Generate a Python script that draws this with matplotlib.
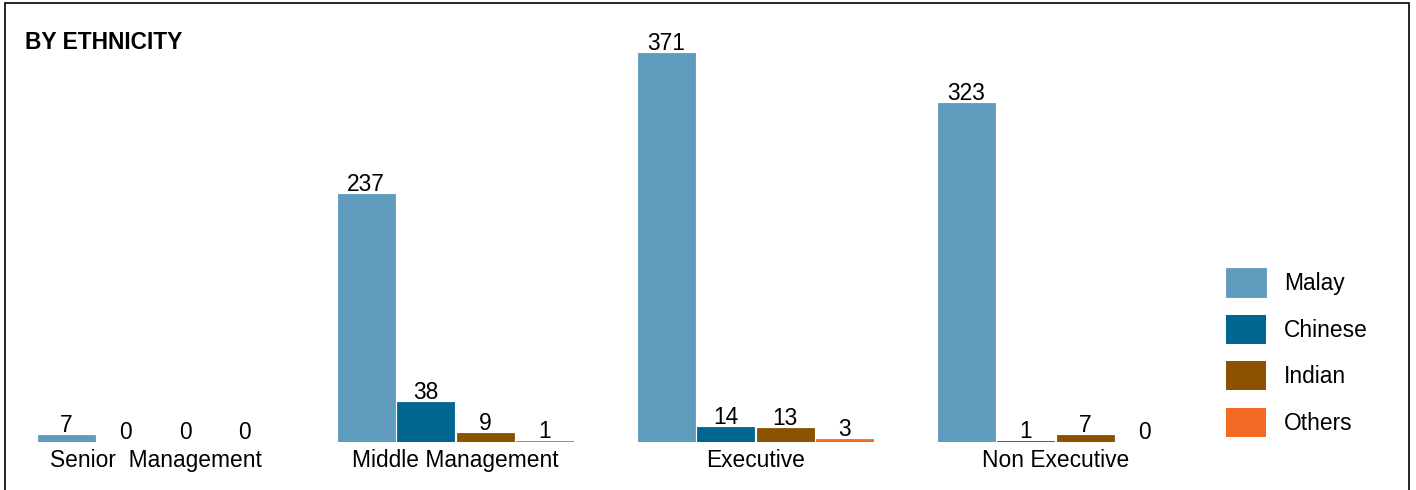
import matplotlib
matplotlib.use("Agg")
import matplotlib.pyplot as plt
from matplotlib.patches import Rectangle
import numpy as np

plt.rcParams['font.family'] = ['Liberation Sans', 'DejaVu Sans']

categories = ["Senior  Management", "Middle Management", "Executive", "Non Executive"]
series_names = ["Malay", "Chinese", "Indian", "Others"]
malay = [7, 237, 371, 323]
chinese = [0, 38, 14, 1]
indian = [0, 9, 13, 7]
others = [0, 1, 3, 0]
colors = ["#5F9BBD", "#00668F", "#8B5300", "#F36A25"]

W, H = 1416, 490
fig = plt.figure(figsize=(W / 100, H / 100), dpi=100)

FS = 16.4

# axes geometry in pixels
ax_left_px, ax_right_px = 0, 1200
ax_bottom_px, ax_top_px = 442, 10
ax = fig.add_axes([ax_left_px / W, (H - ax_bottom_px) / H,
                   (ax_right_px - ax_left_px) / W, (ax_bottom_px - ax_top_px) / H])

px_per_group = 300.0
first_center_px = 155.5
ax.set_xlim((ax_left_px - first_center_px) / px_per_group,
            (ax_right_px - first_center_px) / px_per_group)
px_per_unit = 1.0485
ax.set_ylim(0, (ax_bottom_px - ax_top_px) / px_per_unit)

x = np.arange(len(categories))
bar_w = 57 / px_per_group
step = 59.5 / px_per_group
all_series = [malay, chinese, indian, others]
for i, (vals, col, name) in enumerate(zip(all_series, colors, series_names)):
    offs = (i - 1.5) * step
    lws = [0.6 if v > 0 else 0 for v in vals]
    bars = ax.bar(x + offs, vals, width=bar_w, color=col, label=name,
                  edgecolor=col, linewidth=lws)
    for b, v in zip(bars, vals):
        ax.annotate(str(v), (b.get_x() + b.get_width() / 2, v),
                    xytext=(0, -1.5), textcoords="offset points",
                    ha="center", va="bottom", fontsize=FS, color="black")

ax.set_xticks(x)
ax.set_xticklabels(categories, fontsize=FS)
ax.tick_params(axis="x", length=0, pad=5)
ax.set_yticks([])
for s in ax.spines.values():
    s.set_visible(False)
ax.patch.set_alpha(0)

fig.text(25 / W, (H - 42.5) / H, "BY ETHNICITY", fontsize=FS, fontweight="bold",
         ha="left", va="center")

handles, labels = ax.get_legend_handles_labels()
fig.legend(handles, labels, loc="center left", bbox_to_anchor=(1226 / W, (H - 352.5) / H),
           frameon=False, fontsize=FS, handlelength=1.75, handleheight=1.56,
           labelspacing=0.79, handletextpad=0.79, borderpad=0, borderaxespad=0)

fig.patches.append(Rectangle((5 / W, -0.05), (1409 - 5) / W, 1.05 - 3 / H,
                             transform=fig.transFigure, fill=False,
                             edgecolor="black", linewidth=1.2))

fig.savefig("out.png", dpi=100)
